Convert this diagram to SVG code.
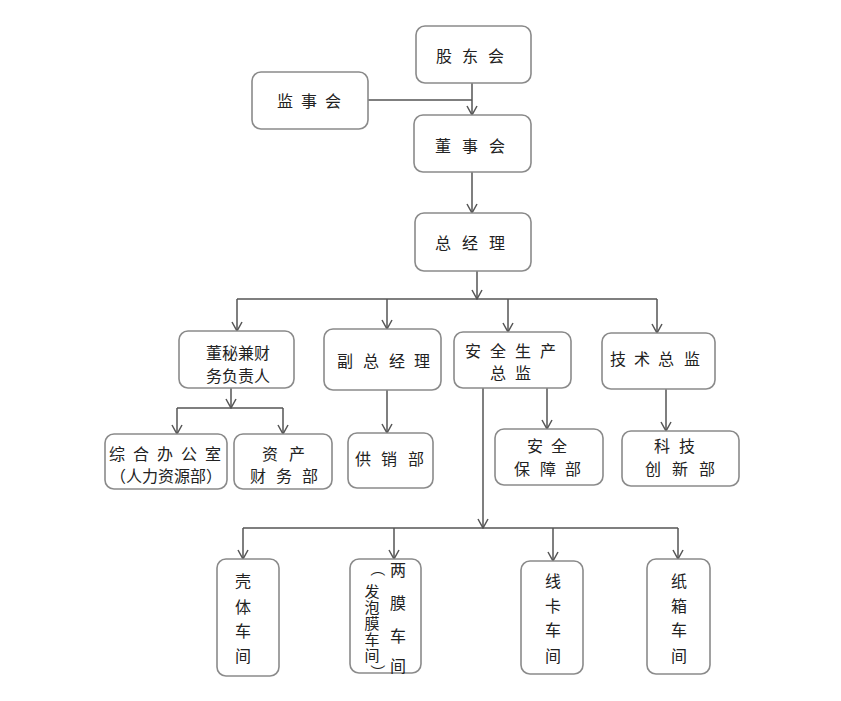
<svg xmlns="http://www.w3.org/2000/svg" width="841" height="701" viewBox="0 0 841 701">
<style>
.box{fill:#fff;stroke:#8a8a8a;stroke-width:1.6}
.t{font-family:"Noto Sans CJK SC","Noto Sans",sans-serif;font-size:16px;fill:#222;text-anchor:middle;dominant-baseline:central}
.s{font-size:15px}
.ln{fill:none;stroke:#555;stroke-width:1.5}
.arr{marker-end:url(#ah)}
</style>
<defs>
<marker id="ah" markerUnits="userSpaceOnUse" markerWidth="12" markerHeight="12" viewBox="0 0 12 12" refX="11" refY="6" orient="auto">
<path d="M2,1 L11,6 L2,11" fill="none" stroke="#555" stroke-width="1.5"/>
</marker>
</defs>
<rect width="841" height="701" fill="#fff"/>
<g id="connectors">
<line class="ln arr" x1="472" y1="83" x2="472" y2="115"/>
<line class="ln" x1="368" y1="100" x2="472" y2="100"/>
<line class="ln arr" x1="472" y1="172" x2="472" y2="213"/>
<line class="ln arr" x1="477" y1="271" x2="477" y2="299"/>
<line class="ln" x1="237" y1="299" x2="657" y2="299"/>
<line class="ln arr" x1="237" y1="299" x2="237" y2="331"/>
<line class="ln arr" x1="387" y1="299" x2="387" y2="329"/>
<line class="ln arr" x1="508" y1="299" x2="508" y2="332"/>
<line class="ln arr" x1="657" y1="299" x2="657" y2="333"/>
<line class="ln arr" x1="231" y1="388" x2="231" y2="408"/>
<line class="ln" x1="177" y1="408" x2="283" y2="408"/>
<line class="ln arr" x1="177" y1="408" x2="177" y2="434"/>
<line class="ln arr" x1="283" y1="408" x2="283" y2="434"/>
<line class="ln arr" x1="387" y1="390" x2="387" y2="433"/>
<line class="ln arr" x1="547" y1="388" x2="547" y2="429"/>
<line class="ln arr" x1="666" y1="389" x2="666" y2="431"/>
<line class="ln arr" x1="483" y1="388" x2="483" y2="528"/>
<line class="ln" x1="243" y1="528" x2="678" y2="528"/>
<line class="ln arr" x1="243" y1="528" x2="243" y2="559"/>
<line class="ln arr" x1="394" y1="528" x2="394" y2="559"/>
<line class="ln arr" x1="553" y1="528" x2="553" y2="561"/>
<line class="ln arr" x1="678" y1="528" x2="678" y2="559"/>
</g>
<g id="n-gudonghui"><rect class="box" x="416" y="26" width="115" height="57" rx="9"/><text class="t" x="444 470 496" y="55">股东会</text></g>
<g id="n-jianshihui"><rect class="box" x="252" y="72" width="116" height="57" rx="9"/><text class="t" x="285 309 333" y="100">监事会</text></g>
<g id="n-dongshihui"><rect class="box" x="414" y="115" width="117" height="57" rx="9"/><text class="t" x="443 470 497" y="145">董事会</text></g>
<g id="n-zongjingli"><rect class="box" x="415" y="213" width="116" height="58" rx="9"/><text class="t" x="443 470 497" y="242">总经理</text></g>
<g id="n-dongmi"><rect class="box" x="179" y="331" width="115" height="57" rx="9"/><text class="t" x="238" y="352">董秘兼财</text><text class="t" x="238" y="375">务负责人</text></g>
<g id="n-fuzong"><rect class="box" x="324" y="329" width="117" height="61" rx="9"/><text class="t" x="345 371 397 422" y="360">副总经理</text></g>
<g id="n-anquanzongjian"><rect class="box" x="454" y="332" width="117" height="56" rx="9"/><text class="t" x="473 498 523 548" y="350">安全生产</text><text class="t" x="498 523" y="372">总监</text></g>
<g id="n-jishuzongjian"><rect class="box" x="602" y="333" width="113" height="56" rx="9"/><text class="t" x="618 642 666 692" y="358">技术总监</text></g>
<g id="n-zonghe"><rect class="box" x="105" y="434" width="122" height="55" rx="9"/><text class="t" x="117 141 165 189 213" y="453">综合办公室</text><text class="t" x="166" y="475">（人力资源部）</text></g>
<g id="n-zichan"><rect class="box" x="234" y="434" width="98" height="55" rx="9"/><text class="t" x="270 297" y="453">资产</text><text class="t" x="258 284 310" y="475">财务部</text></g>
<g id="n-gongxiao"><rect class="box" x="348" y="433" width="85" height="55" rx="9"/><text class="t" x="363 389 416" y="458">供销部</text></g>
<g id="n-anquanbaozhang"><rect class="box" x="495" y="429" width="108" height="56" rx="9"/><text class="t" x="535 559" y="445">安全</text><text class="t" x="522 548 573" y="468">保障部</text></g>
<g id="n-kejichuangxin"><rect class="box" x="622" y="431" width="117" height="55" rx="9"/><text class="t" x="662 687" y="445">科技</text><text class="t" x="653 680 707" y="468">创新部</text></g>
<g id="n-keti"><rect class="box" x="217" y="559" width="62" height="117" rx="9"/><text class="t" x="243" y="580">壳</text><text class="t" x="243" y="606">体</text><text class="t" x="243" y="630">车</text><text class="t" x="243" y="655">间</text></g>
<g id="n-liangmo"><rect class="box" x="350" y="559" width="71" height="114" rx="9"/><text class="t" x="398" y="569">两</text><text class="t" x="398" y="602">膜</text><text class="t" x="398" y="635">车</text><text class="t" x="398" y="665">间</text>
<text class="t s" x="379.5 372 372 372 372 372 379.5" y="555 590 606 622 638 654 658" rotate="90 0 0 0 0 0 90">（发泡膜车间）</text></g>
<g id="n-xianka"><rect class="box" x="521" y="561" width="62" height="113" rx="9"/><text class="t" x="553" y="580">线</text><text class="t" x="553" y="605">卡</text><text class="t" x="553" y="629">车</text><text class="t" x="553" y="655">间</text></g>
<g id="n-zhixiang"><rect class="box" x="647" y="559" width="63" height="115" rx="9"/><text class="t" x="679" y="580">纸</text><text class="t" x="679" y="605">箱</text><text class="t" x="679" y="629">车</text><text class="t" x="679" y="655">间</text></g>
</svg>
